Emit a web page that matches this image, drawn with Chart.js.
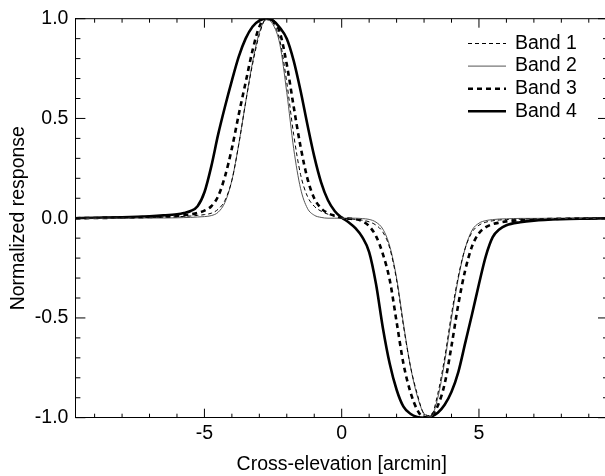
<!DOCTYPE html>
<html><head><meta charset="utf-8">
<script src="https://cdn.jsdelivr.net/npm/chart.js@4/dist/chart.umd.min.js"></script>
<style>
html,body{margin:0;padding:0;overflow:hidden;background:#fff;width:605px;height:476px}
#wrap{position:absolute;left:0;top:0;width:612px;height:476px}
</style></head><body>
<div id="wrap"><canvas id="c" width="612" height="476"></canvas></div>
<script>
// Cross-elevation [arcmin]
const xValues = [-9.7,-9,-8,-7,-6.5,-6,-5.75,-5.5,-5.25,-5,-4.75,-4.5,-4.25,-4,-3.75,-3.5,-3.25,-3,-2.75,-2.5,-2.25,-2,-1.75,-1.5,-1.25,-1,-0.75,-0.5,-0.25,0,0.25,0.5,0.75,1,1.25,1.5,1.75,2,2.25,2.5,2.75,3,3.25,3.5,3.75,4,4.25,4.5,4.75,5,5.25,5.5,5.75,6,6.5,7,8,9,9.7];
const band1 = [0,0.001,0.002,0.004,0.005,0.007,0.009,0.011,0.014,0.018,0.025,0.045,0.09,0.19,0.37,0.58,0.77,0.92,1.0,0.98,0.89,0.68,0.42,0.22,0.11,0.06,0.035,0.02,0.01,0,-0.003,-0.006,-0.01,-0.018,-0.035,-0.07,-0.15,-0.31,-0.54,-0.74,-0.88,-0.98,-0.99,-0.88,-0.70,-0.48,-0.29,-0.15,-0.07,-0.035,-0.02,-0.013,-0.009,-0.007,-0.005,-0.004,-0.002,-0.001,0];
const band2 = [0,0,0,0.001,0.001,0.002,0.003,0.004,0.006,0.008,0.013,0.03,0.08,0.19,0.37,0.58,0.78,0.93,0.995,0.97,0.87,0.63,0.35,0.15,0.05,0.015,0.004,0,0,0,0,0,-0.002,-0.006,-0.02,-0.055,-0.14,-0.30,-0.53,-0.74,-0.89,-0.98,-0.995,-0.90,-0.72,-0.50,-0.30,-0.15,-0.06,-0.025,-0.012,-0.007,-0.004,-0.003,-0.001,-0.001,0,0,0];
const band3 = [0,0.001,0.003,0.006,0.008,0.011,0.014,0.019,0.026,0.038,0.06,0.11,0.21,0.35,0.52,0.68,0.84,0.96,1.0,0.99,0.93,0.77,0.56,0.36,0.20,0.10,0.05,0.025,0.012,0.002,-0.002,-0.005,-0.015,-0.04,-0.09,-0.18,-0.31,-0.52,-0.73,-0.87,-0.96,-0.998,-0.99,-0.94,-0.83,-0.64,-0.43,-0.26,-0.14,-0.075,-0.045,-0.03,-0.022,-0.016,-0.01,-0.007,-0.003,-0.001,0];
const band4 = [0,0.002,0.005,0.010,0.014,0.020,0.026,0.036,0.060,0.13,0.26,0.42,0.56,0.69,0.81,0.90,0.96,0.99,1.0,0.99,0.955,0.90,0.79,0.64,0.47,0.31,0.18,0.09,0.035,0.003,-0.02,-0.05,-0.095,-0.17,-0.33,-0.55,-0.73,-0.86,-0.945,-0.98,-0.996,-1.0,-0.995,-0.975,-0.935,-0.87,-0.77,-0.625,-0.48,-0.33,-0.19,-0.095,-0.055,-0.035,-0.02,-0.012,-0.005,-0.002,0];
const seriesNames = ['Band 1','Band 2','Band 3','Band 4'];
const xMajorTicks = [-5,0,5];
const yMajorTicks = [-1,-0.5,0,0.5,1];

const FONT = '"Liberation Sans", Arial, Helvetica, sans-serif';
const FS = 19.5;
Chart.defaults.font.family = FONT;
Chart.defaults.font.size = FS;
Chart.defaults.color = '#000';

function pts(ys){ return xValues.map((x,i)=>({x:x,y:ys[i]})); }
function isMajor(v, list){ return list.some(m=>Math.abs(m-v)<1e-6); }

const styles = [
  {borderColor:'#000', borderWidth:1, borderDash:[4,3]},
  {borderColor:'#555', borderWidth:1, borderDash:[]},
  {borderColor:'#000', borderWidth:2.6, borderDash:[5,4]},
  {borderColor:'#000', borderWidth:2.6, borderDash:[]}
];
const allSeries = [band1, band2, band3, band4];
const datasets = allSeries.map((s,i)=>Object.assign({
  label: seriesNames[i], data: pts(s), pointRadius:0, fill:false,
  cubicInterpolationMode:'monotone'
}, styles[i]));

const tickPlugin = {
  id:'inwardTicks',
  afterDraw(chart){
    const {ctx, chartArea:{left,right,top,bottom}, scales:{x,y}} = chart;
    ctx.save();
    ctx.strokeStyle = '#000'; ctx.lineWidth = 1; ctx.setLineDash([]);
    ctx.beginPath();
    x.ticks.forEach(t=>{
      const px = x.getPixelForValue(t.value);
      const len = isMajor(t.value, xMajorTicks) ? 9 : 4;
      ctx.moveTo(px,bottom); ctx.lineTo(px,bottom-len);
      ctx.moveTo(px,top); ctx.lineTo(px,top+len);
    });
    y.ticks.forEach(t=>{
      const py = y.getPixelForValue(t.value);
      const len = isMajor(t.value, yMajorTicks) ? 10 : 5;
      ctx.moveTo(left,py); ctx.lineTo(left+len,py);
      ctx.moveTo(right,py); ctx.lineTo(right-len,py);
    });
    ctx.moveTo(left,top); ctx.lineTo(right,top);
    ctx.moveTo(right,top); ctx.lineTo(right,bottom);
    ctx.stroke();
    ctx.restore();
  }
};

const legendPlugin = {
  id:'bandLegend',
  afterDatasetsDraw(chart){
    const ctx = chart.ctx;
    ctx.save();
    chart.data.datasets.forEach((ds,i)=>{
      const yy = 43.5 + i*22.6;
      ctx.beginPath();
      ctx.setLineDash(ds.borderDash||[]);
      ctx.lineWidth = ds.borderWidth; ctx.strokeStyle = ds.borderColor;
      ctx.moveTo(468,yy); ctx.lineTo(506,yy); ctx.stroke();
      ctx.setLineDash([]);
      ctx.fillStyle = '#000'; ctx.font = FS + 'px ' + FONT; ctx.textBaseline = 'middle'; ctx.textAlign='left';
      ctx.fillText(ds.label, 515, yy);
    });
    ctx.restore();
  }
};

new Chart(document.getElementById('c'), {
  type:'line',
  data:{datasets:datasets},
  options:{
    responsive:false, devicePixelRatio:1, animation:false,
    layout:{padding:{top:13.5,right:4,bottom:0,left:0}},
    plugins:{legend:{display:false}, tooltip:{enabled:false}},
    scales:{
      x:{type:'linear', min:-9.7, max:9.7,
        afterFit(s){ s.height = 58.3; },
        ticks:{stepSize:1, includeBounds:false, autoSkip:false, maxRotation:0, maxTicksLimit:100, padding:4.3, color:'#000', font:{size:FS},
          callback(v){ return isMajor(v, xMajorTicks) ? String(Math.round(v)) : ''; }},
        grid:{display:true, drawOnChartArea:false, drawTicks:false},
        border:{display:true, color:'#000', width:1},
        title:{display:true, text:'Cross-elevation [arcmin]', color:'#000', font:{size:FS}, padding:{top:0,bottom:0}}
      },
      y:{type:'linear', min:-1, max:1,
        afterFit(s){ s.width = 75.4; },
        ticks:{stepSize:0.1, includeBounds:false, autoSkip:false, maxTicksLimit:100, padding:7, color:'#000', font:{size:FS},
          callback(v){ return isMajor(v, yMajorTicks) ? Number(v).toFixed(1) : ''; }},
        grid:{display:true, drawOnChartArea:false, drawTicks:false},
        border:{display:true, color:'#000', width:1},
        title:{display:true, text:'Normalized response', color:'#000', font:{size:FS}, padding:{top:6.6,bottom:0}}
      }
    }
  },
  plugins:[tickPlugin, legendPlugin]
});
</script>
</body></html>
